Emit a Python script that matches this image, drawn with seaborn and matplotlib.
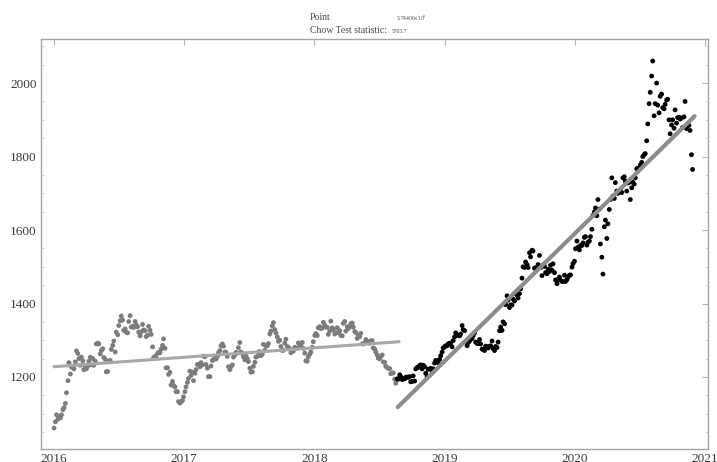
import matplotlib
matplotlib.use("Agg")
import matplotlib.pyplot as plt
from matplotlib.ticker import FixedLocator, MultipleLocator
import numpy as np
import pandas as pd
import seaborn as sns

# Gold price readings (USD/oz): Fridays starting 2016-01-01
fri_2016 = [1061, 1097, 1090, 1097, 1116, 1157, 1239, 1227, 1222, 1271, 1250, 1254, 1220,
            1222, 1243, 1233, 1232, 1290, 1290, 1272, 1253, 1214, 1243, 1275, 1298, 1322,
            1340, 1366, 1327, 1322, 1351, 1336, 1335, 1342, 1322, 1323, 1328, 1310, 1338,
            1316, 1253, 1251, 1267, 1276, 1304, 1225, 1207, 1178, 1177, 1160, 1133, 1132, 1146]
fri_2017 = [1173, 1196, 1204, 1190, 1220, 1234, 1239, 1257, 1234, 1201, 1230, 1247, 1249,
            1266, 1285, 1284, 1267, 1228, 1228, 1254, 1267, 1280, 1268, 1255, 1257, 1242,
            1213, 1229, 1254, 1268, 1258, 1289, 1285, 1291, 1325, 1348, 1320, 1297, 1283,
            1273, 1303, 1280, 1266, 1270, 1278, 1293, 1288, 1278, 1244, 1255, 1268, 1296]
fri_2018 = [1318, 1334, 1332, 1349, 1336, 1316, 1352, 1329, 1320, 1321, 1313, 1346, 1325,
            1332, 1345, 1336, 1321, 1313, 1319, 1290, 1302, 1294, 1298, 1279, 1268, 1251,
            1255, 1241, 1229, 1223, 1209, 1211, 1183, 1194, 1201, 1195, 1199, 1199, 1187,
            1203, 1222, 1226, 1233, 1232, 1210, 1221, 1223, 1222, 1245, 1239, 1258, 1279]
fri_2019 = [1285, 1290, 1292, 1299, 1320, 1314, 1317, 1329, 1297, 1293, 1302, 1313, 1295,
            1291, 1290, 1275, 1284, 1279, 1285, 1277, 1283, 1295, 1336, 1350, 1397, 1409,
            1396, 1412, 1427, 1415, 1440, 1500, 1513, 1498, 1527, 1543, 1497, 1506, 1498,
            1505, 1484, 1493, 1504, 1508, 1464, 1466, 1464, 1460, 1460, 1472, 1478, 1509]
fri_2020 = [1549, 1553, 1558, 1565, 1582, 1567, 1582, 1640, 1660, 1683, 1562, 1480, 1627,
            1617, 1683, 1692, 1729, 1700, 1709, 1742, 1733, 1728, 1683, 1730, 1742, 1768,
            1777, 1800, 1808, 1889, 1975, 2060, 1944, 1940, 1964, 1933, 1942, 1956, 1862,
            1900, 1927, 1906, 1902, 1879, 1950, 1884, 1871, 1765]

# Tuesdays starting 2016-01-05
tue_2016 = [1078, 1085, 1089, 1111, 1128, 1190, 1208, 1227, 1241, 1264, 1232, 1244, 1228,
            1230, 1254, 1250, 1243, 1292, 1263, 1277, 1248, 1215, 1245, 1286, 1268, 1315,
            1353, 1355, 1331, 1320, 1367, 1338, 1351, 1337, 1312, 1343, 1326, 1314, 1327,
            1282, 1256, 1264, 1266, 1286, 1278, 1225, 1213, 1188, 1173, 1160, 1129, 1136]
tue_2017 = [1160, 1185, 1216, 1213, 1210, 1234, 1228, 1233, 1255, 1224, 1201, 1245, 1252,
            1256, 1272, 1290, 1268, 1256, 1220, 1233, 1260, 1265, 1294, 1264, 1247, 1250,
            1224, 1214, 1240, 1256, 1269, 1262, 1273, 1285, 1317, 1339, 1329, 1309, 1300,
            1272, 1292, 1283, 1277, 1271, 1281, 1279, 1282, 1294, 1265, 1243, 1262, 1281]
tue_2018 = [1313, 1313, 1337, 1333, 1341, 1335, 1325, 1334, 1317, 1334, 1326, 1312, 1351,
            1337, 1336, 1347, 1324, 1305, 1310, 1290, 1293, 1297, 1292, 1299, 1276, 1260,
            1250, 1260, 1240, 1226, 1223, 1211, 1194, 1195, 1206, 1193, 1195, 1200, 1201,
            1188, 1189, 1226, 1231, 1222, 1228, 1201, 1222, 1214, 1238, 1244, 1248, 1268]
tue_2019 = [1282, 1285, 1292, 1282, 1309, 1314, 1312, 1340, 1326, 1285, 1298, 1305, 1320,
            1291, 1302, 1276, 1272, 1283, 1283, 1298, 1272, 1280, 1326, 1327, 1345, 1421,
            1389, 1396, 1407, 1423, 1427, 1469, 1498, 1506, 1538, 1545, 1496, 1498, 1531,
            1476, 1501, 1481, 1487, 1491, 1484, 1454, 1472, 1460, 1477, 1465, 1477, 1499, 1515]
tue_2020 = [1570, 1546, 1558, 1580, 1559, 1570, 1602, 1649, 1639, 1657, 1526, 1609, 1577,
            1656, 1742, 1686, 1706, 1703, 1702, 1745, 1706, 1730, 1715, 1725, 1767, 1768,
            1784, 1805, 1843, 1944, 2019, 1911, 2000, 1919, 1970, 1930, 1954, 1900, 1886,
            1877, 1891, 1907, 1905, 1908, 1876, 1885, 1805]

# Structural break date and the two fitted regression segments
break_date = "2018-08-17"
fit_pre_x = [2016.0, 2018.65]
fit_pre_y = [1228, 1296]
fit_post_x = [2018.64, 2020.92]
fit_post_y = [1118, 1910]

year_ticks = [2016, 2017, 2018, 2019, 2020, 2021]
value_ticks = [1200, 1400, 1600, 1800, 2000]

point_value = "3.74406$\\times$10$^{9}$"
chow_value = "5703.7"


def decimal_year(dates):
    days = np.where(dates.is_leap_year, 366.0, 365.0)
    return dates.year + (dates.dayofyear - 1) / days


fri = fri_2016 + fri_2017 + fri_2018 + fri_2019 + fri_2020
tue = tue_2016 + tue_2017 + tue_2018 + tue_2019 + tue_2020
fri_dates = pd.date_range("2016-01-01", periods=len(fri), freq="7D")
tue_dates = pd.date_range("2016-01-05", periods=len(tue), freq="7D")
dates = fri_dates.append(tue_dates)

df = pd.DataFrame({
    "t": decimal_year(dates),
    "price": fri + tue,
    "regime": np.where(dates <= pd.Timestamp(break_date), "pre", "post"),
})

sns.set_style("white")
plt.rcParams["font.family"] = ["Liberation Serif", "DejaVu Serif"]
plt.rcParams["mathtext.fontset"] = "stix"

fig = plt.figure(figsize=(7.17, 4.62), dpi=100)
ax = fig.add_axes([41 / 717, 1 - 449 / 462, (708 - 41) / 717, (449 - 39) / 462])

sns.scatterplot(data=df, x="t", y="price", hue="regime",
                palette={"pre": "#7c7c7c", "post": "#000000"},
                s=12, linewidth=0, legend=False, ax=ax, zorder=2)

sns.lineplot(x=fit_pre_x, y=fit_pre_y, color="#a8a8a8", linewidth=2.2, ax=ax, zorder=3)
sns.lineplot(x=fit_post_x, y=fit_post_y, color="#8c8c8c", linewidth=3.0, ax=ax, zorder=3)

ax.set_xlim(2015.90, 2021.023)
ax.set_ylim(1004, 2120)
ax.set_xlabel("")
ax.set_ylabel("")

ax.xaxis.set_major_locator(FixedLocator(year_ticks))
ax.set_xticklabels([str(y) for y in year_ticks])
ax.yaxis.set_major_locator(FixedLocator(value_ticks))
ax.set_yticklabels([str(v) for v in value_ticks])
ax.yaxis.set_minor_locator(MultipleLocator(50))

for spine in ax.spines.values():
    spine.set_color("#a4a4a4")
    spine.set_linewidth(1.0)

ax.tick_params(which="major", direction="in", length=4.5, width=0.8, color="#b4b4b4",
               top=True, right=True, labelsize=9.5, labelcolor="#3a3a3a", pad=3)
ax.tick_params(which="minor", direction="in", length=2.5, width=0.6, color="#c8c8c8",
               left=True, right=True)

fig.text(310 / 717, 1 - 20 / 462, "Point", fontsize=7, color="#4a4a4a", va="baseline")
fig.text(310 / 717, 1 - 33 / 462, "Chow Test statistic:", fontsize=7, color="#4a4a4a",
         va="baseline")
fig.text(396 / 717, 1 - 20 / 462, point_value, fontsize=4, color="#4a4a4a", va="baseline")
fig.text(392 / 717, 1 - 33 / 462, chow_value, fontsize=4, color="#4a4a4a", va="baseline")

fig.savefig("out.png", dpi=100)
